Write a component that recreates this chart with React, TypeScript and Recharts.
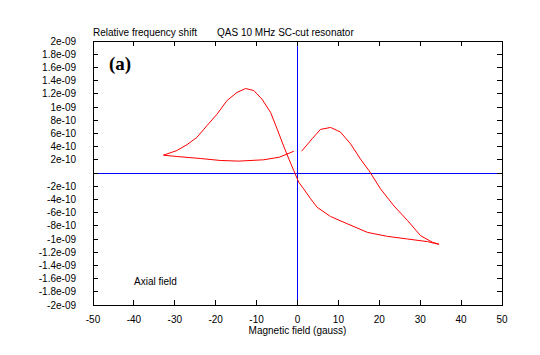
import { LineChart, Line, XAxis, YAxis, ReferenceLine, Label } from "recharts";

// Values in units of 1e-9 (relative frequency shift) vs magnetic field (gauss)
// Main branch: up over the left peak, down to the far right, back up over the right peak
const mainX = [
  -32.8, -29.5, -27.0, -24.6, -22.1, -19.7, -17.2, -14.8, -12.7, -10.7, -8.7,
  -6.6, -5.0, -3.4, -2.1, -0.9, 0.3, 1.5, 3.2, 4.8, 8.1, 12.2, 17.1, 22.0, 26.9,
  31.8, 34.6, 33.0, 30.1, 26.9, 23.6, 20.3, 17.5, 15.4, 13.0, 10.5, 8.1, 5.6,
  3.6, 1.0,
];
const mainY = [
  0.27, 0.34, 0.43, 0.54, 0.72, 0.89, 1.1, 1.22, 1.28, 1.25, 1.12, 0.92, 0.67,
  0.41, 0.21, 0.035, -0.14, -0.24, -0.39, -0.52, -0.66, -0.77, -0.9, -0.96,
  -1.0, -1.04, -1.08, -1.05, -0.95, -0.72, -0.5, -0.24, 0.035, 0.21, 0.44, 0.62,
  0.69, 0.66, 0.52, 0.33,
];
// Return branch along the bottom of the left loop
const returnX = [-0.9, -4.4, -8.3, -14.4, -18.9, -23.8, -29.5, -32.8];
const returnY = [0.33, 0.24, 0.2, 0.18, 0.19, 0.22, 0.25, 0.27];

const xTicks = [-50, -40, -30, -20, -10, 0, 10, 20, 30, 40, 50];
const yTicks = [
  -2, -1.8, -1.6, -1.4, -1.2, -1, -0.8, -0.6, -0.4, -0.2, 0, 0.2, 0.4, 0.6,
  0.8, 1, 1.2, 1.4, 1.6, 1.8, 2,
];

const mainData = mainX.map((x, i) => ({ x, y: mainY[i] }));
const returnData = returnX.map((x, i) => ({ x, y: returnY[i] }));

const W = 540;
const H = 355;
const M = { top: 41, right: 38, bottom: 0, left: 0 };
const Y_AXIS_W = 93;
const X_AXIS_H = 50;
// plot frame edges, derived from the layout above
const PL = M.left + Y_AXIS_W;
const PR = W - M.right;
const PT = M.top;
const PB = H - M.bottom - X_AXIS_H;
const TICK = 5;

const FONT = "Liberation Sans, Arial, sans-serif";

// gnuplot-style labels: 1.8 -> "1.8e-09", 0.4 -> "4e-10", 0 -> ""
function formatY(v: number): string {
  if (Math.abs(v) < 1e-9) return "";
  const r = Math.round(v * 10) / 10;
  if (Math.abs(r) >= 1) return `${r}e-09`;
  return `${Math.round(r * 10)}e-10`;
}

// label on the left plus inward tick marks on both frame sides
function YTick(props: any) {
  const { x, y, payload } = props;
  return (
    <g>
      <path
        d={`M${PL},${y}h${TICK}M${PR},${y}h${-TICK}`}
        stroke="#000"
        strokeWidth={1}
        shapeRendering="crispEdges"
        fill="none"
      />
      <text
        x={x}
        y={y}
        dy="0.355em"
        textAnchor="end"
        fontSize={10}
        fontFamily={FONT}
        fill="#000"
      >
        {formatY(payload.value)}
      </text>
    </g>
  );
}

function XTick(props: any) {
  const { x, y, payload } = props;
  return (
    <g>
      <path
        d={`M${x},${PB}v${-TICK}M${x},${PT}v${TICK}`}
        stroke="#000"
        strokeWidth={1}
        shapeRendering="crispEdges"
        fill="none"
      />
      <text
        x={x}
        y={y}
        dy="0.71em"
        textAnchor="middle"
        fontSize={10}
        fontFamily={FONT}
        fill="#000"
      >
        {payload.value}
      </text>
    </g>
  );
}

export default function App() {
  return (
    <div style={{ position: "absolute", left: 0, top: 0, background: "#fff" }}>
      <LineChart width={W} height={H} margin={M}>
        {/* plot frame */}
        <rect
          x={PL}
          y={PT}
          width={PR - PL}
          height={PB - PT}
          fill="none"
          stroke="#000"
          strokeWidth={1}
          shapeRendering="crispEdges"
        />

        <XAxis
          type="number"
          dataKey="x"
          domain={[-50, 50]}
          ticks={xTicks}
          height={X_AXIS_H}
          tick={XTick}
          tickSize={0}
          tickMargin={11}
          tickLine={false}
          axisLine={{ stroke: "#000", shapeRendering: "crispEdges" }}
        >
          <Label
            value="Magnetic field (gauss)"
            position="insideBottom"
            offset={21}
            style={{ fontSize: 10, fill: "#000", fontFamily: FONT }}
          />
        </XAxis>
        <YAxis
          type="number"
          domain={[-2, 2]}
          ticks={yTicks}
          width={Y_AXIS_W}
          tick={YTick}
          tickSize={0}
          tickMargin={17}
          tickLine={false}
          axisLine={{ stroke: "#000", shapeRendering: "crispEdges" }}
          interval={0}
        />

        <ReferenceLine y={0} stroke="#0000ff" shapeRendering="crispEdges" />
        <ReferenceLine x={0} stroke="#0000ff" shapeRendering="crispEdges" />

        <Line
          data={mainData}
          dataKey="y"
          type="linear"
          stroke="#ff0000"
          strokeWidth={1}
          dot={false}
          isAnimationActive={false}
        />
        <Line
          data={returnData}
          dataKey="y"
          type="linear"
          stroke="#ff0000"
          strokeWidth={1}
          dot={false}
          isAnimationActive={false}
        />

        <text x={93} y={36} fontSize={10} fontFamily={FONT} fill="#000">
          Relative frequency shift
        </text>
        <text x={217} y={36} fontSize={10} fontFamily={FONT} fill="#000">
          QAS 10 MHz SC-cut resonator
        </text>
        <text
          x={109}
          y={70}
          fill="#000"
          fontSize={19}
          fontWeight="bold"
          fontFamily="Liberation Serif"
        >
          (a)
        </text>
        <text x={134} y={285} fontSize={10} fontFamily={FONT} fill="#000">
          Axial field
        </text>
      </LineChart>
    </div>
  );
}
